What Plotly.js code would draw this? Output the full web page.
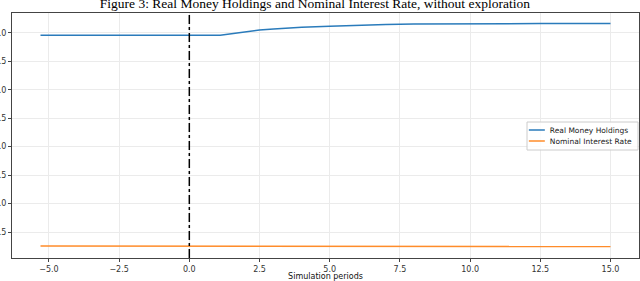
<!DOCTYPE html>
<html>
<head>
<meta charset="utf-8">
<script src="https://cdn.plot.ly/plotly-3.0.1.min.js"></script>
<style>html,body{margin:0;padding:0;background:#fff;}#chart{width:640px;height:281px;}</style>
</head>
<body>
<div id="chart"></div>
<script>
// Data
const moneyPeriods = [-5.3, -2.5, 0, 1.1, 1.5, 2, 2.5, 3, 3.5, 4, 5, 6, 7, 8, 10, 12.5, 15];
const realMoney    = [3.96, 3.96, 3.96, 3.96, 3.985, 4.02, 4.05, 4.07, 4.085, 4.10, 4.115, 4.135, 4.148, 4.155, 4.162, 4.165, 4.165];
const ratePeriods  = [-5.3, -2.5, 0, 1, 2, 3, 5, 7.5, 10, 12.5, 15];
const nominalRate  = [0.255, 0.255, 0.255, 0.255, 0.252, 0.250, 0.248, 0.246, 0.245, 0.244, 0.243];
const shockPeriod  = 0;
const xTicks = [-5, -2.5, 0, 2.5, 5, 7.5, 10, 12.5, 15];
const xTickText = ['\u22125.0', '\u22122.5', '0.0', '2.5', '5.0', '7.5', '10.0', '12.5', '15.0'];
const yTicks = [0.5, 1.0, 1.5, 2.0, 2.5, 3.0, 3.5, 4.0];
const yTickText = ['0.5', '1.0', '1.5', '2.0', '2.5', '3.0', '3.5', '4.0'];
const titleText = 'Figure 3: Real Money Holdings and Nominal Interest Rate, without exploration';
const xLabel = 'Simulation periods';

const traces = [
  {x: moneyPeriods, y: realMoney, name: 'Real Money Holdings', mode: 'lines', legend: 'legend',
   line: {color: '#2a7bbb', width: 1.5}},
  {x: ratePeriods, y: nominalRate, name: 'Nominal Interest Rate', mode: 'lines', legend: 'legend2',
   line: {color: '#ff8c2a', width: 1.5}}
];

const legendFont = {family: 'DejaVu Sans', size: 7.5, color: '#222'};
const legBase = {xanchor: 'left', yanchor: 'middle', bgcolor: 'rgba(0,0,0,0)', borderwidth: 0, font: legendFont};

const layout = {
  width: 640, height: 281,
  margin: {l: 12, r: 1, t: 13, b: 23, pad: 0},
  paper_bgcolor: '#fff', plot_bgcolor: '#fff',
  font: {family: 'DejaVu Sans', size: 8, color: '#333'},
  title: {text: titleText, font: {family: 'Liberation Serif', size: 13.5, color: '#000'},
          x: 0.492, xanchor: 'center', yref: 'container', y: 1 - 3/281, yanchor: 'middle'},
  showlegend: true,
  legend: Object.assign({x: 0.794, y: 0.5224}, legBase),
  legend2: Object.assign({x: 0.794, y: 0.4776}, legBase),
  xaxis: {range: [-6.315, 16.015], tickvals: xTicks, ticktext: xTickText,
          showgrid: true, gridcolor: '#ebebeb', gridwidth: 1, zeroline: false,
          showline: true, linecolor: '#444', linewidth: 1, mirror: true,
          ticks: 'outside', ticklen: 3, tickcolor: '#444',
          tickfont: {family: 'DejaVu Sans', size: 8, color: '#333'},
          title: {text: xLabel, font: {family: 'DejaVu Sans', size: 8, color: '#111'}, standoff: 1}},
  yaxis: {range: [0.043, 4.35], tickvals: yTicks, ticktext: yTickText,
          showgrid: true, gridcolor: '#ebebeb', gridwidth: 1, zeroline: false,
          showline: true, linecolor: '#444', linewidth: 1, mirror: true,
          ticks: 'outside', ticklen: 3, tickcolor: '#444',
          tickfont: {family: 'DejaVu Sans', size: 8, color: '#333'}},
  shapes: [
    {type: 'line', xref: 'x', yref: 'paper', x0: shockPeriod, x1: shockPeriod, y0: 0, y1: 1,
     line: {color: '#000', width: 1.5, dash: 'dashdot'}},
    {type: 'rect', xref: 'paper', yref: 'paper', x0: (527-12)/627, x1: (638-12)/627,
     y0: (258-150)/245, y1: (258-122)/245, fillcolor: 'rgba(255,255,255,0.85)',
     line: {color: '#cccccc', width: 1}, layer: 'above'}
  ]
};

Plotly.newPlot('chart', traces, layout, {displayModeBar: false, staticPlot: true}).then(function () {
  // shorten legend sample lines to match the reference (matplotlib-style handles)
  document.querySelectorAll('.legendlines path').forEach(function (p) { p.setAttribute('d', 'M19,0h16'); });
});
</script>
</body>
</html>
